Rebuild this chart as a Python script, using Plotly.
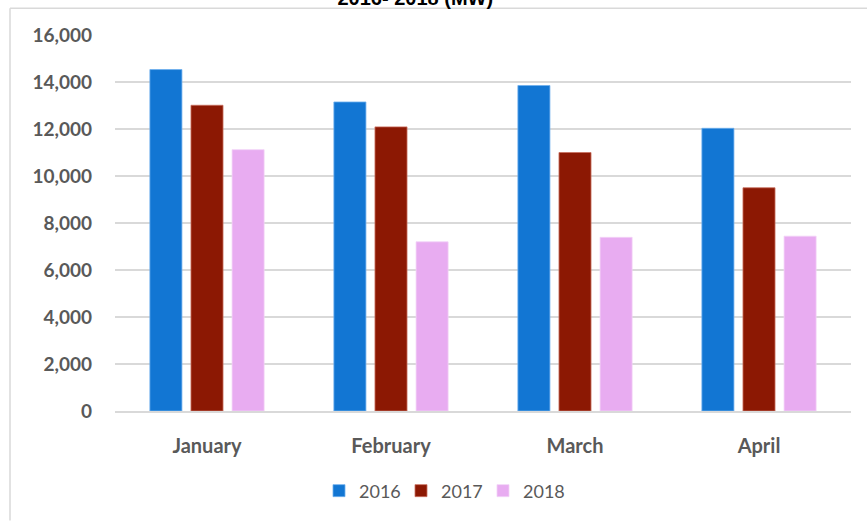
import plotly.graph_objects as go

months = ["January", "February", "March", "April"]
years = ["2016", "2017", "2018"]
v2016 = [14530, 13150, 13850, 12030]
v2017 = [13010, 12090, 11000, 9500]
v2018 = [11120, 7200, 7390, 7440]
colors = ["#1276D3", "#8C1803", "#E8ACF1"]
line_colors = ["#6FB0EE", "#C9705F", "#F3D2F7"]
yticks = [0, 2000, 4000, 6000, 8000, 10000, 12000, 14000, 16000]
title_text = "2016- 2018 (MW)"

fig = go.Figure()
for yr, vals, c, lc in zip(years, [v2016, v2017, v2018], colors, line_colors):
    fig.add_trace(go.Bar(x=months, y=vals, name=yr,
                         marker=dict(color=c, line=dict(color=lc, width=0.8))))

font_family = "Lato, Open Sans, Liberation Sans, Arial, sans-serif"
W, H = 867, 522
L, R, T, B = 115, 16, 35, 106
pw, ph = W - L - R, H - T - B

fig.update_layout(
    width=W, height=H,
    margin=dict(l=L, r=R, t=T, b=B),
    paper_bgcolor="white", plot_bgcolor="white",
    barmode="group", bargap=0.33, bargroupgap=0.22,
    showlegend=True,
    legend=dict(orientation="h", x=(442 - L) / pw, xanchor="center",
                y=(413 - 494) / ph, yanchor="middle",
                font=dict(family=font_family, size=18, color="#595959"),
                itemwidth=30, entrywidth=37, entrywidthmode="pixels",
                traceorder="normal"),
    title=dict(text="<b>" + title_text + "</b>", x=0.479, xanchor="center",
               y=1 - 5 / H, yanchor="bottom", yref="container",
               font=dict(family="Liberation Sans, Arial, sans-serif", size=20, color="#000000")),
    xaxis=dict(showgrid=False, showline=True, linecolor="#D9D9D9", linewidth=2,
               ticks="", ticklabelstandoff=16,
               tickfont=dict(family=font_family, size=20, color="#595959", weight="bold")),
    yaxis=dict(range=[0, 16000], tickvals=yticks, tickformat=",",
               showgrid=True, gridcolor="#D9D9D9", gridwidth=2,
               zeroline=False, showline=False, ticks="", ticklabelstandoff=22,
               tickfont=dict(family=font_family, size=19, color="#595959", weight="bold")),
    shapes=[
        dict(type="line", xref="paper", yref="paper", x0=(10 - L) / pw, x1=(W + 5 - L) / pw,
             y0=1 + (T - 8) / ph, y1=1 + (T - 8) / ph, line=dict(color="#D9D9D9", width=1.5)),
        dict(type="line", xref="paper", yref="paper", x0=(10 - L) / pw, x1=(10 - L) / pw,
             y0=1 + (T - 8) / ph, y1=-(B + 5) / ph, line=dict(color="#D9D9D9", width=1.5)),
    ],
)

fig.write_html("out.html", config={"displayModeBar": False},
               post_script="document.body.style.margin='0px';document.body.style.overflow='hidden';")
